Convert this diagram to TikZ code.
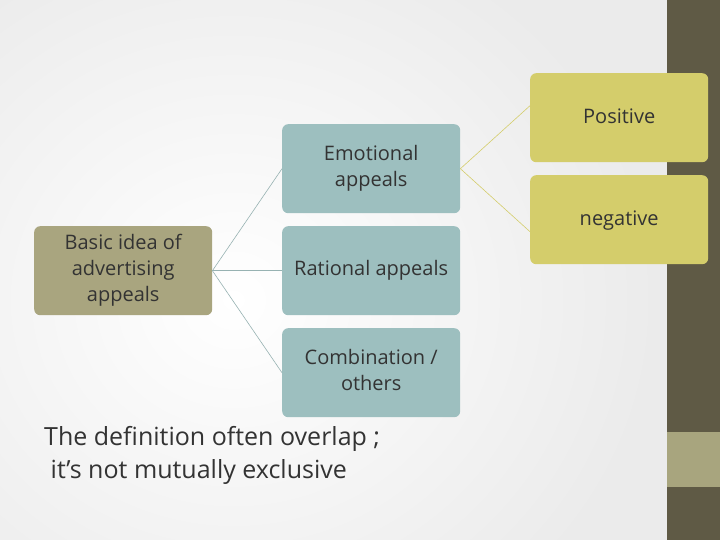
\documentclass[tikz,border=0pt]{standalone}
\usepackage{fontspec}
\setmainfont{Open Sans}
\definecolor{olive}{HTML}{A9A57F}
\definecolor{teal}{HTML}{9DBFBF}
\definecolor{yel}{HTML}{D4CD6B}
\definecolor{strip}{HTML}{5F5A45}
\definecolor{stripl}{HTML}{A8A57E}
\definecolor{txt}{HTML}{333333}
\tikzset{
 box/.style={rounded corners=6pt, minimum width=178pt, minimum height=89pt, anchor=north west, inner sep=0pt},
 btext/.style={font=\fontsize{20}{26}\selectfont, text=txt, align=center},
 link/.style={draw=#1, line width=0.6pt}
}
\begin{document}
\begin{tikzpicture}[x=1pt,y=-1pt]
\useasboundingbox (0,0) rectangle (720,540);
\shade[inner color=white, outer color=black!8] (-200,-100) rectangle (667,700);
\fill[strip] (667,0) rectangle (720,540);
\fill[stripl] (667,432) rectangle (720,487);
\node[box, fill=olive] (basic) at (34,226) {};
\node[btext] at (basic.center) {Basic idea of\\advertising\\appeals};
\node[box, fill=teal] (emo) at (282,124) {};
\node[btext, anchor=north] at ([yshift=-18pt]emo.north) {Emotional\\appeals};
\node[box, fill=teal] (rat) at (282,226) {};
\node[btext] at (rat.center) {Rational appeals};
\node[box, fill=teal] (com) at (282,328) {};
\node[btext, anchor=north] at ([yshift=-18pt]com.north) {Combination /\\others};
\node[box, fill=yel] (pos) at (530,73) {};
\node[btext, anchor=north] at ([yshift=-32pt]pos.north) {Positive};
\node[box, fill=yel] (neg) at (530,175) {};
\node[btext, anchor=north] at ([yshift=-32pt]neg.north) {negative};
\draw[link=teal!80!gray] (basic.east) -- (emo.west);
\draw[link=teal!80!gray] (basic.east) -- (rat.west);
\draw[link=teal!80!gray] (basic.east) -- (com.west);
\draw[link=yel] (emo.east) -- ([yshift=12pt]pos.west);
\draw[link=yel] (emo.east) -- ([yshift=-12pt]neg.west);
\node[anchor=north west, align=left, text=txt, font=\fontsize{25}{33}\selectfont, inner sep=0pt] (note) at (44,426) {The definition often overlap ;\\\ it’s not mutually exclusive};
\end{tikzpicture}
\end{document}
